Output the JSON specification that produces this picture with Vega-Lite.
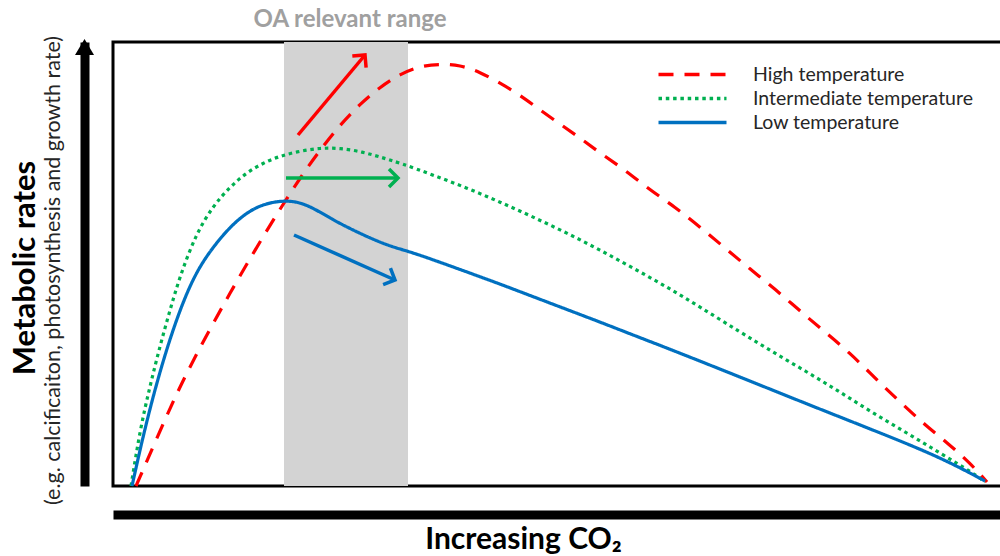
{
  "$schema": "https://vega.github.io/schema/vega-lite/v6.json",
  "width": 900,
  "height": 444,
  "autosize": "none",
  "padding": {"left": 113, "top": 42, "right": -13, "bottom": 70},
  "background": "white",
  "config": {
    "view": {"stroke": "black", "strokeWidth": 3},
    "font": "Lato",
    "axisX": {
      "domain": true, "domainColor": "black", "domainWidth": 9,
      "ticks": false, "labels": false, "grid": false, "offset": 28.5,
      "titleFont": "Lato", "titleFontWeight": "bold", "titleFontSize": 30, "titleColor": "black",
      "titleX": 410, "titleAlign": "center", "titlePadding": 10
    },
    "axisY": {
      "domain": true, "domainColor": "black", "domainWidth": 9,
      "ticks": false, "labels": false, "grid": false, "offset": 28.5,
      "titleFont": "Lato", "titleFontWeight": "normal", "titleFontSize": 21.5, "titleColor": "#262626",
      "titleY": 228, "titleAlign": "center", "titlePadding": 20
    }
  },
  "datasets": {
    "curves": [
      {"series": "High temperature", "x": 23, "y": 0},
      {"series": "High temperature", "x": 47, "y": 55},
      {"series": "High temperature", "x": 67, "y": 100},
      {"series": "High temperature", "x": 92, "y": 148},
      {"series": "High temperature", "x": 117, "y": 193},
      {"series": "High temperature", "x": 142, "y": 236},
      {"series": "High temperature", "x": 167, "y": 277},
      {"series": "High temperature", "x": 187, "y": 308},
      {"series": "High temperature", "x": 207, "y": 336},
      {"series": "High temperature", "x": 227, "y": 361},
      {"series": "High temperature", "x": 247, "y": 382},
      {"series": "High temperature", "x": 267, "y": 399},
      {"series": "High temperature", "x": 287, "y": 412},
      {"series": "High temperature", "x": 307, "y": 420},
      {"series": "High temperature", "x": 327, "y": 422},
      {"series": "High temperature", "x": 347, "y": 421},
      {"series": "High temperature", "x": 367, "y": 414},
      {"series": "High temperature", "x": 387, "y": 403},
      {"series": "High temperature", "x": 407, "y": 391},
      {"series": "High temperature", "x": 427, "y": 376},
      {"series": "High temperature", "x": 447, "y": 362},
      {"series": "High temperature", "x": 467, "y": 348},
      {"series": "High temperature", "x": 487, "y": 333},
      {"series": "High temperature", "x": 512, "y": 316},
      {"series": "High temperature", "x": 537, "y": 296},
      {"series": "High temperature", "x": 562, "y": 279},
      {"series": "High temperature", "x": 587, "y": 259},
      {"series": "High temperature", "x": 612, "y": 238},
      {"series": "High temperature", "x": 637, "y": 217},
      {"series": "High temperature", "x": 662, "y": 197},
      {"series": "High temperature", "x": 687, "y": 175},
      {"series": "High temperature", "x": 712, "y": 154},
      {"series": "High temperature", "x": 737, "y": 133},
      {"series": "High temperature", "x": 762, "y": 108},
      {"series": "High temperature", "x": 787, "y": 84},
      {"series": "High temperature", "x": 812, "y": 61},
      {"series": "High temperature", "x": 837, "y": 41},
      {"series": "High temperature", "x": 857, "y": 23},
      {"series": "High temperature", "x": 874, "y": 4},
      {"series": "Intermediate temperature", "x": 18, "y": 0},
      {"series": "Intermediate temperature", "x": 27, "y": 56},
      {"series": "Intermediate temperature", "x": 37, "y": 100},
      {"series": "Intermediate temperature", "x": 47, "y": 140},
      {"series": "Intermediate temperature", "x": 57, "y": 176},
      {"series": "Intermediate temperature", "x": 67, "y": 210},
      {"series": "Intermediate temperature", "x": 83, "y": 252},
      {"series": "Intermediate temperature", "x": 100, "y": 280},
      {"series": "Intermediate temperature", "x": 117, "y": 299},
      {"series": "Intermediate temperature", "x": 133, "y": 313},
      {"series": "Intermediate temperature", "x": 150, "y": 323},
      {"series": "Intermediate temperature", "x": 167, "y": 330},
      {"series": "Intermediate temperature", "x": 187, "y": 335},
      {"series": "Intermediate temperature", "x": 207, "y": 338},
      {"series": "Intermediate temperature", "x": 227, "y": 338},
      {"series": "Intermediate temperature", "x": 250, "y": 334},
      {"series": "Intermediate temperature", "x": 267, "y": 329},
      {"series": "Intermediate temperature", "x": 287, "y": 323},
      {"series": "Intermediate temperature", "x": 320, "y": 311},
      {"series": "Intermediate temperature", "x": 354, "y": 298},
      {"series": "Intermediate temperature", "x": 387, "y": 284},
      {"series": "Intermediate temperature", "x": 420, "y": 269},
      {"series": "Intermediate temperature", "x": 454, "y": 253},
      {"series": "Intermediate temperature", "x": 487, "y": 236},
      {"series": "Intermediate temperature", "x": 520, "y": 218},
      {"series": "Intermediate temperature", "x": 554, "y": 199},
      {"series": "Intermediate temperature", "x": 587, "y": 179},
      {"series": "Intermediate temperature", "x": 627, "y": 154},
      {"series": "Intermediate temperature", "x": 660, "y": 134},
      {"series": "Intermediate temperature", "x": 694, "y": 114},
      {"series": "Intermediate temperature", "x": 727, "y": 94},
      {"series": "Intermediate temperature", "x": 760, "y": 73},
      {"series": "Intermediate temperature", "x": 794, "y": 53},
      {"series": "Intermediate temperature", "x": 827, "y": 33},
      {"series": "Intermediate temperature", "x": 860, "y": 13},
      {"series": "Intermediate temperature", "x": 872, "y": 4},
      {"series": "Low temperature", "x": 19, "y": 0},
      {"series": "Low temperature", "x": 33, "y": 63},
      {"series": "Low temperature", "x": 50, "y": 126},
      {"series": "Low temperature", "x": 67, "y": 177},
      {"series": "Low temperature", "x": 83, "y": 214},
      {"series": "Low temperature", "x": 100, "y": 239},
      {"series": "Low temperature", "x": 117, "y": 259},
      {"series": "Low temperature", "x": 133, "y": 273},
      {"series": "Low temperature", "x": 150, "y": 282},
      {"series": "Low temperature", "x": 172, "y": 286},
      {"series": "Low temperature", "x": 190, "y": 283},
      {"series": "Low temperature", "x": 207, "y": 274},
      {"series": "Low temperature", "x": 224, "y": 264},
      {"series": "Low temperature", "x": 240, "y": 256},
      {"series": "Low temperature", "x": 257, "y": 248},
      {"series": "Low temperature", "x": 274, "y": 241},
      {"series": "Low temperature", "x": 287, "y": 237},
      {"series": "Low temperature", "x": 307, "y": 231},
      {"series": "Low temperature", "x": 354, "y": 214},
      {"series": "Low temperature", "x": 387, "y": 202},
      {"series": "Low temperature", "x": 434, "y": 184},
      {"series": "Low temperature", "x": 487, "y": 164},
      {"series": "Low temperature", "x": 520, "y": 151},
      {"series": "Low temperature", "x": 554, "y": 138},
      {"series": "Low temperature", "x": 627, "y": 109},
      {"series": "Low temperature", "x": 694, "y": 82},
      {"series": "Low temperature", "x": 760, "y": 56},
      {"series": "Low temperature", "x": 827, "y": 29},
      {"series": "Low temperature", "x": 872, "y": 5}
    ],
    "band": [
      {"label": "OA relevant range", "from": 171, "to": 295, "center": 237}
    ],
    "arrows": [
      {"series": "High temperature", "x": 185, "y": 351, "x2": 252, "y2": 431},
      {"series": "Intermediate temperature", "x": 173, "y": 308, "x2": 285, "y2": 308},
      {"series": "Low temperature", "x": 181, "y": 251, "x2": 282, "y2": 206}
    ],
    "ytitle": [
      {"text": "Metabolic rates"}
    ]
  },
  "layer": [
    {
      "data": {"name": "band"},
      "mark": {"type": "rect", "color": "#d3d3d3"},
      "encoding": {
        "x": {"field": "from", "type": "quantitative", "scale": {"domain": [0, 900], "nice": false, "zero": false}, "axis": {"title": "Increasing CO₂"}},
        "x2": {"field": "to"}
      }
    },
    {
      "data": {"name": "band"},
      "mark": {"type": "text", "fontSize": 24, "fontWeight": "bold", "color": "#a0a0a0", "align": "center", "baseline": "alphabetic", "font": "Lato"},
      "encoding": {
        "x": {"field": "center", "type": "quantitative", "scale": {"domain": [0, 900], "nice": false, "zero": false}, "axis": {"title": "Increasing CO₂"}},
        "y": {"datum": 459, "type": "quantitative", "scale": {"domain": [0, 444], "nice": false, "zero": false}, "axis": {"title": "(e.g. calcificaiton, photosynthesis and growth rate)"}},
        "text": {"field": "label"}
      }
    },
    {
      "data": {"name": "ytitle"},
      "mark": {"type": "text", "fontSize": 31, "fontWeight": "bold", "color": "black", "align": "center", "baseline": "alphabetic", "angle": 270, "font": "Lato"},
      "encoding": {
        "x": {"datum": -78, "type": "quantitative", "scale": {"domain": [0, 900], "nice": false, "zero": false}, "axis": {"title": "Increasing CO₂"}},
        "y": {"datum": 218, "type": "quantitative", "scale": {"domain": [0, 444], "nice": false, "zero": false}, "axis": {"title": "(e.g. calcificaiton, photosynthesis and growth rate)"}},
        "text": {"field": "text"}
      }
    },
    {
      "data": {"name": "ytitle"},
      "mark": {"type": "point", "shape": "M 0 -0.85 L 1 0.85 L -1 0.85 Z", "size": 361, "filled": true, "color": "black", "opacity": 1},
      "encoding": {
        "x": {"datum": -28.5, "type": "quantitative", "scale": {"domain": [0, 900], "nice": false, "zero": false}, "axis": {"title": "Increasing CO₂"}},
        "y": {"datum": 439, "type": "quantitative", "scale": {"domain": [0, 444], "nice": false, "zero": false}, "axis": {"title": "(e.g. calcificaiton, photosynthesis and growth rate)"}}
      }
    },
    {
      "data": {"name": "curves"},
      "mark": {"type": "line", "strokeWidth": 3.2, "interpolate": "basis"},
      "encoding": {
        "x": {"field": "x", "type": "quantitative", "scale": {"domain": [0, 900], "nice": false, "zero": false}, "axis": {"title": "Increasing CO₂"}},
        "y": {"field": "y", "type": "quantitative", "scale": {"domain": [0, 444], "nice": false, "zero": false}, "axis": {"title": "(e.g. calcificaiton, photosynthesis and growth rate)"}},
        "color": {
          "field": "series", "type": "nominal",
          "scale": {"domain": ["High temperature", "Intermediate temperature", "Low temperature"], "range": ["#ff0000", "#00b050", "#0070c0"]},
          "legend": {"title": null, "orient": "none", "legendX": 569, "legendY": 22, "symbolType": "M -4 0 L 4 0", "symbolSize": 289, "symbolStrokeWidth": 3.5, "labelFont": "Lato", "labelFontSize": 19.5, "labelColor": "#262626", "labelOffset": 50, "labelLimit": 400, "rowPadding": 4, "padding": 0}
        },
        "strokeDash": {
          "field": "series", "type": "nominal",
          "scale": {"domain": ["High temperature", "Intermediate temperature", "Low temperature"], "range": [[15, 11], [3.5, 3.8], [1, 0]]},
          "legend": {"title": null, "orient": "none", "legendX": 569, "legendY": 22, "symbolType": "M -4 0 L 4 0", "symbolSize": 289, "symbolStrokeWidth": 3.5, "labelFont": "Lato", "labelFontSize": 19.5, "labelColor": "#262626", "labelOffset": 50, "labelLimit": 400, "rowPadding": 4, "padding": 0}
        }
      }
    },
    {
      "data": {"name": "arrows"},
      "mark": {"type": "rule", "strokeWidth": 3.5},
      "encoding": {
        "x": {"field": "x", "type": "quantitative", "scale": {"domain": [0, 900], "nice": false, "zero": false}, "axis": {"title": "Increasing CO₂"}},
        "y": {"field": "y", "type": "quantitative", "scale": {"domain": [0, 444], "nice": false, "zero": false}, "axis": {"title": "(e.g. calcificaiton, photosynthesis and growth rate)"}},
        "x2": {"field": "x2"},
        "y2": {"field": "y2"},
        "color": {"field": "series", "type": "nominal", "legend": null}
      }
    },
    {
      "data": {"name": "arrows"},
      "transform": [{"filter": "datum.series === 'High temperature'"}],
      "mark": {"type": "point", "shape": "M -1 1 L 0 0 L 1 1", "size": 324, "filled": false, "strokeWidth": 3.5, "opacity": 1, "angle": 40, "strokeJoin": "miter"},
      "encoding": {
        "x": {"field": "x2", "type": "quantitative", "scale": {"domain": [0, 900], "nice": false, "zero": false}, "axis": {"title": "Increasing CO₂"}},
        "y": {"field": "y2", "type": "quantitative", "scale": {"domain": [0, 444], "nice": false, "zero": false}, "axis": {"title": "(e.g. calcificaiton, photosynthesis and growth rate)"}},
        "color": {"field": "series", "type": "nominal", "legend": null}
      }
    },
    {
      "data": {"name": "arrows"},
      "transform": [{"filter": "datum.series === 'Intermediate temperature'"}],
      "mark": {"type": "point", "shape": "M -1 1 L 0 0 L 1 1", "size": 324, "filled": false, "strokeWidth": 3.5, "opacity": 1, "angle": 90, "strokeJoin": "miter"},
      "encoding": {
        "x": {"field": "x2", "type": "quantitative", "scale": {"domain": [0, 900], "nice": false, "zero": false}, "axis": {"title": "Increasing CO₂"}},
        "y": {"field": "y2", "type": "quantitative", "scale": {"domain": [0, 444], "nice": false, "zero": false}, "axis": {"title": "(e.g. calcificaiton, photosynthesis and growth rate)"}},
        "color": {"field": "series", "type": "nominal", "legend": null}
      }
    },
    {
      "data": {"name": "arrows"},
      "transform": [{"filter": "datum.series === 'Low temperature'"}],
      "mark": {"type": "point", "shape": "M -1 1 L 0 0 L 1 1", "size": 324, "filled": false, "strokeWidth": 3.5, "opacity": 1, "angle": 114, "strokeJoin": "miter"},
      "encoding": {
        "x": {"field": "x2", "type": "quantitative", "scale": {"domain": [0, 900], "nice": false, "zero": false}, "axis": {"title": "Increasing CO₂"}},
        "y": {"field": "y2", "type": "quantitative", "scale": {"domain": [0, 444], "nice": false, "zero": false}, "axis": {"title": "(e.g. calcificaiton, photosynthesis and growth rate)"}},
        "color": {"field": "series", "type": "nominal", "legend": null}
      }
    }
  ]
}
